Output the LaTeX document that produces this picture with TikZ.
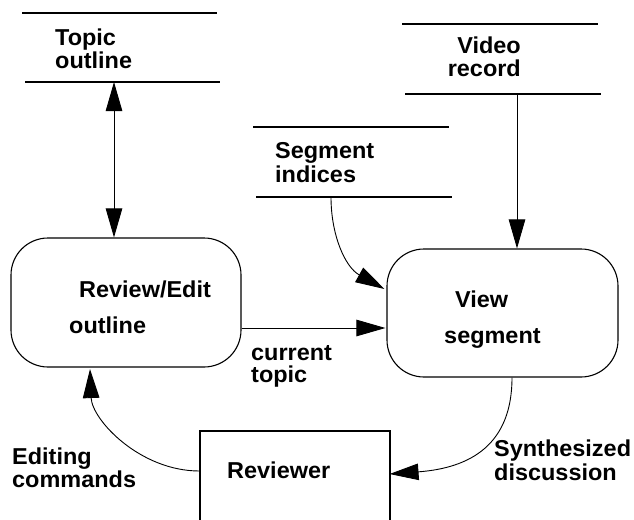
\documentclass[tikz,border=0pt]{standalone}
\usepackage{fontspec}
\setmainfont{Liberation Sans}[FakeStretch=1.02]
\usetikzlibrary{arrows.meta,calc}
\begin{document}
\begin{tikzpicture}[x=1pt,y=-1pt,
  lbl/.style={font=\fontsize{23}{23}\selectfont\bfseries, inner sep=0pt, anchor=base west},
  lblr/.style={lbl, anchor=base east},
  store/.style={line width=1.1pt},
  proc/.style={draw, line width=1.1pt, rounded corners=37pt, minimum width=230pt, minimum height=129pt, inner sep=0pt},
  conn/.style={line width=0.9pt},
  tip/.style={-{Triangle[length=29pt,width=16.5pt]}},
  tips/.style={{Triangle[length=29pt,width=16.5pt]}-{Triangle[length=29pt,width=16.5pt]}},
]
\clip (0,0) rectangle (634,519);
\fill[white] (0,0) rectangle (634,519);

% data stores
\draw[store] (22,13) -- (217,13);
\draw[store] (25,82) -- (220,82);
\node[lbl] (topic1) at (55,45.5) {Topic};
\node[lbl] (topic2) at (55,68.5) {outline};

\draw[store] (402,24) -- (598,24);
\draw[store] (405,94) -- (601,94);
\node[lblr] (video1) at (521,53) {Video};
\node[lblr] (video2) at (521,77) {record};

\draw[store] (253,127) -- (449,127);
\draw[store] (256,197) -- (452,197);
\node[lbl] (seg1) at (275,158.5) {Segment};
\node[lbl] (seg2) at (275,182) {indices};

\coordinate (topicB) at (114,82);
\coordinate (videoB) at (517,94);
\coordinate (segB) at (331,197);

% processes
\node[proc] (review) at (126,302.5) {};
\node[lbl] (review1) at (79,297) {Review/Edit};
\node[lbl] (review2) at (69,333) {outline};

\node[proc, minimum width=231pt, minimum height=128pt] (view) at (502.5,313) {};
\node[lbl] (view1) at (455,307) {View};
\node[lbl] (view2) at (444,343) {segment};

% terminator
\node[draw, line width=1.1pt, minimum width=190pt, minimum height=120pt, inner sep=0pt] (reviewer) at (295,491) {};
\node[lbl] (reviewer1) at (227,478) {Reviewer};

% connectors
\draw[conn,tips] (topicB) -- (topicB |- review.north);
\draw[conn,tip] (videoB) -- (videoB |- view.north);
\draw[conn,tip] (segB) .. controls (331,235) and (345,267) .. ($(view.west)+(-2,-24)$);
\draw[conn,tip] ($(review.east)+(0,25.5)$) -- ($(view.west)+(-1,15)$);
\draw[conn,tip] ($(view.south)+(9.5,0)$) .. controls (512,445) and (470,468) .. ($(reviewer.east)+(-1,-17)$);
\draw[conn,tip] ($(reviewer.west)+(0,-20)$) .. controls (140,471) and (92,420) .. ($(review.south)+(-36,1.5)$);

% connector labels
\node[lbl] (cur1) at (251,360) {current};
\node[lbl] (cur2) at (251,382) {topic};
\node[lbl] (edit1) at (12,464) {Editing};
\node[lbl] (edit2) at (12,487) {commands};
\node[lbl] (syn1) at (494,456) {Synthesized};
\node[lbl] (syn2) at (494,480) {discussion};
\end{tikzpicture}
\end{document}
